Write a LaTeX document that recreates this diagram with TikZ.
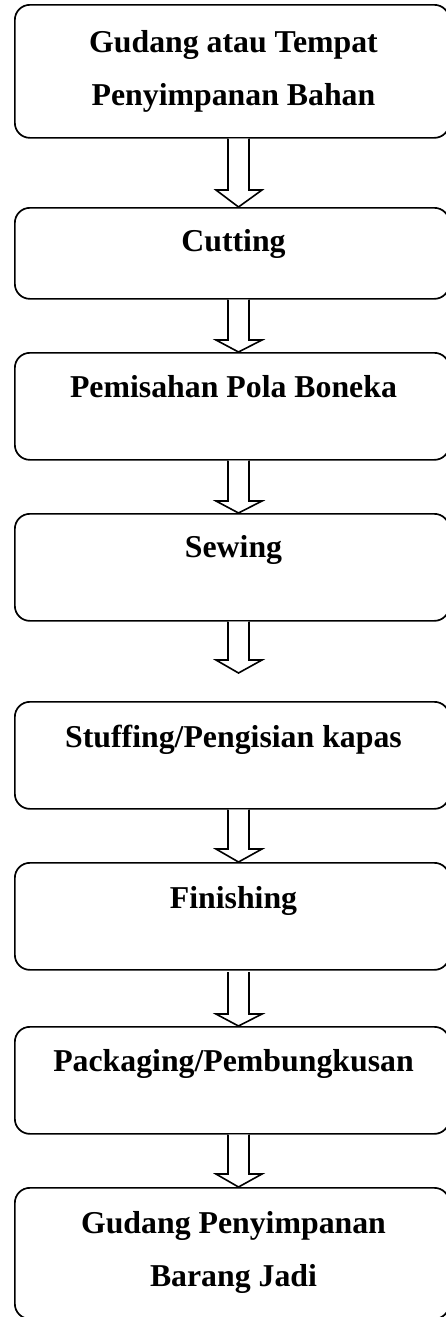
\documentclass[tikz,border=0pt]{standalone}
\usepackage{fontspec}
\setmainfont{Liberation Serif}
\usetikzlibrary{calc}
\tikzset{
  box/.style={draw, line width=1.7pt, rounded corners=15pt, minimum width=434.5pt,
              minimum height=#1, anchor=north west, inner sep=0pt},
  lbl/.style={font=\bfseries\fontsize{31.8}{53.5}\selectfont, anchor=base, inner sep=0pt},
  arr/.style={draw, line width=1.6pt, fill=white, line join=miter},
}
\newcommand\flowarrow[3]{%
  \draw[arr] (#1 -| xl) -- ($(#2 -| xl)+(0,-#3)$) -- ($(#2 -| hl)+(0,-#3)$)
    -- (#2 -| xc) -- ($(#2 -| hr)+(0,-#3)$) -- ($(#2 -| xr)+(0,-#3)$)
    -- (#1 -| xr);}
\begin{document}
\begin{tikzpicture}[x=1pt,y=-1pt]
\useasboundingbox (0,0) rectangle (446,1317);
\coordinate (xl) at (228,0);
\coordinate (xr) at (249,0);
\coordinate (hl) at (216,0);
\coordinate (hr) at (262,0);
\coordinate (xc) at (238.5,0);

\node[box=133pt] (b1) at (14,4) {};
\node[box=91pt]  (b2) at (14,207) {};
\node[box=107pt] (b3) at (14,352) {};
\node[box=107pt] (b4) at (14,513) {};
\node[box=107pt] (b5) at (14,701) {};
\node[box=107pt] (b6) at (14,862) {};
\node[box=107pt] (b7) at (14,1026) {};
\node[box=131pt] (b8) at (14,1187) {};

\node[lbl] (t1) at (233.5,52) {\begin{tabular}[t]{@{}c@{}}Gudang atau Tempat\\Penyimpanan Bahan\end{tabular}};
\node[lbl] (t2) at (233.5,251) {Cutting};
\node[lbl] (t3) at (233.5,397) {Pemisahan Pola Boneka};
\node[lbl] (t4) at (233.5,557) {Sewing};
\node[lbl] (t5) at (233.5,747) {Stuffing/Pengisian kapas};
\node[lbl] (t6) at (233.5,908) {Finishing};
\node[lbl] (t7) at (233.5,1071) {Packaging/Pembungkusan};
\node[lbl] (t8) at (233.5,1233) {\begin{tabular}[t]{@{}c@{}}Gudang Penyimpanan\\Barang Jadi\end{tabular}};

\coordinate (e4) at (238.5,673);
\coordinate (s6) at (238.5,972);

\flowarrow{b1.south}{b2.north}{17}
\flowarrow{b2.south}{b3.north}{12}
\flowarrow{b3.south}{b4.north}{12}
\flowarrow{b4.south}{e4}{13}
\flowarrow{b5.south}{b6.north}{13}
\flowarrow{s6}{b7.north}{12}
\flowarrow{b7.south}{b8.north}{13}
\end{tikzpicture}
\end{document}
